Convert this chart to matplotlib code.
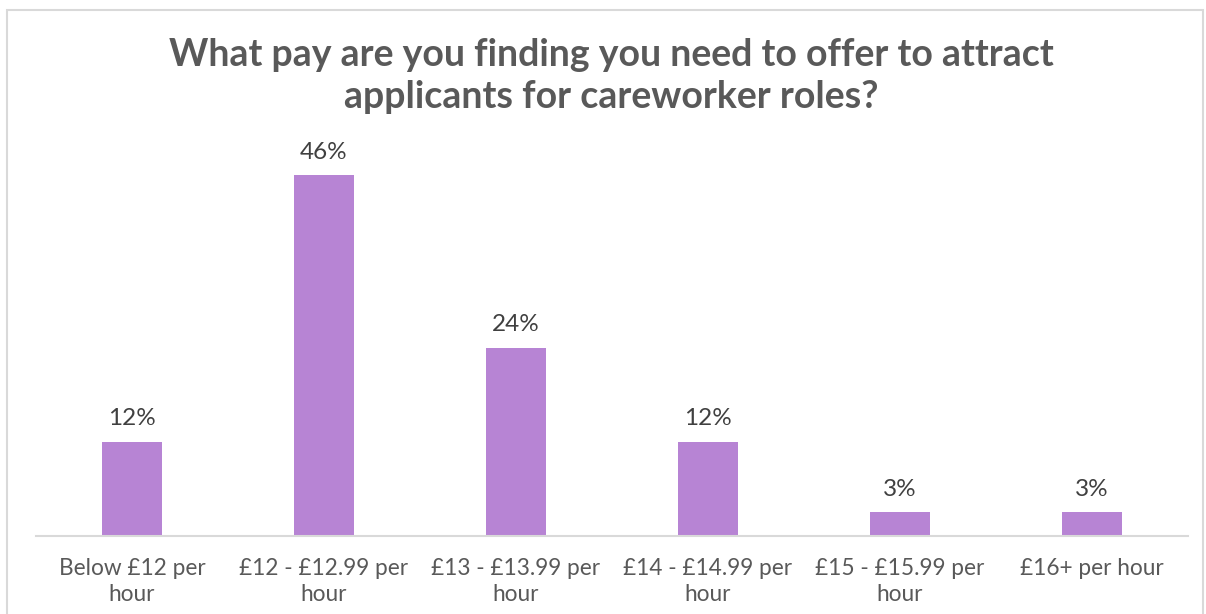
import matplotlib.pyplot as plt
from matplotlib.patches import Rectangle

# Datos de la encuesta
categorias = ['Below £12 per\nhour', '£12 - £12.99 per\nhour', '£13 - £13.99 per\nhour',
              '£14 - £14.99 per\nhour', '£15 - £15.99 per\nhour', '£16+ per hour']
porcentajes = [12, 46, 24, 12, 3, 3]
etiquetas = ['12%', '46%', '24%', '12%', '3%', '3%']

plt.rcParams['font.family'] = ['Lato', 'DejaVu Sans']

fig = plt.figure(figsize=(12.06, 6.14), dpi=100)
W, H = 1206, 614

# Marco gris del area del grafico
fig.patches.append(Rectangle((7 / W, -0.05), 1196 / W, 1 - 10 / H + 0.05,
                             transform=fig.transFigure, fill=False,
                             edgecolor='#D9D9D9', linewidth=1.5))

ax = fig.add_axes([36 / W, 1 - 536 / H, (1188 - 36) / W, (536 - 150) / H])

x = range(len(categorias))
barras = ax.bar(x, porcentajes, width=0.31, color='#B784D4')
for b, t in zip(barras, etiquetas):
    ax.annotate(t, (b.get_x() + b.get_width() / 2, b.get_height()),
                xytext=(0, 9), textcoords='offset points', ha='center', va='bottom',
                fontsize=17.5, color='#404040')

ax.set_xlim(-0.5, len(categorias) - 0.5)
ax.set_ylim(0, 49.2)
ax.set_xticks(list(x))
ax.set_xticklabels(categorias, fontsize=16.3, color='#595959', linespacing=1.3)
ax.tick_params(axis='x', length=0, pad=15.5)
ax.set_yticks([])
for lado in ['top', 'right', 'left']:
    ax.spines[lado].set_visible(False)
ax.spines['bottom'].set_color('#D9D9D9')
ax.spines['bottom'].set_linewidth(1.5)

# Titulo
fig.text(611 / W, 1 - 76 / H, 'What pay are you finding you need to offer to attract\napplicants for careworker roles?',
         ha='center', va='center', fontsize=27, fontweight='bold', color='#595959', linespacing=1.25)

fig.savefig('out.png', dpi=100)
